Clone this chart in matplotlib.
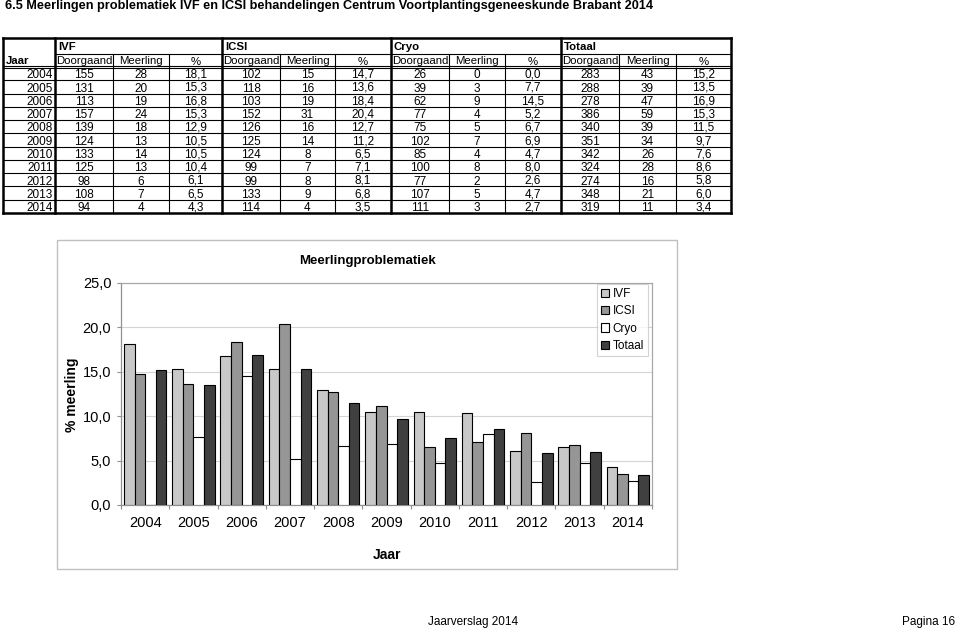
import matplotlib
matplotlib.use("Agg")
import matplotlib.pyplot as plt
from matplotlib.lines import Line2D
from matplotlib.patches import Rectangle
import numpy as np

plt.rcParams['font.family'] = ['Liberation Sans', 'DejaVu Sans']

years = [2004, 2005, 2006, 2007, 2008, 2009, 2010, 2011, 2012, 2013, 2014]
ivf_door = [155, 131, 113, 157, 139, 124, 133, 125, 98, 108, 94]
ivf_meer = [28, 20, 19, 24, 18, 13, 14, 13, 6, 7, 4]
ivf_pct = [18.1, 15.3, 16.8, 15.3, 12.9, 10.5, 10.5, 10.4, 6.1, 6.5, 4.3]
icsi_door = [102, 118, 103, 152, 126, 125, 124, 99, 99, 133, 114]
icsi_meer = [15, 16, 19, 31, 16, 14, 8, 7, 8, 9, 4]
icsi_pct = [14.7, 13.6, 18.4, 20.4, 12.7, 11.2, 6.5, 7.1, 8.1, 6.8, 3.5]
cryo_door = [26, 39, 62, 77, 75, 102, 85, 100, 77, 107, 111]
cryo_meer = [0, 3, 9, 4, 5, 7, 4, 8, 2, 5, 3]
cryo_pct = [0.0, 7.7, 14.5, 5.2, 6.7, 6.9, 4.7, 8.0, 2.6, 4.7, 2.7]
tot_door = [283, 288, 278, 386, 340, 351, 342, 324, 274, 348, 319]
tot_meer = [43, 39, 47, 59, 39, 34, 26, 28, 16, 21, 11]
tot_pct = [15.2, 13.5, 16.9, 15.3, 11.5, 9.7, 7.6, 8.6, 5.8, 6.0, 3.4]

groups = ["IVF", "ICSI", "Cryo", "Totaal"]
subcols = ["Doorgaand", "Meerling", "%"]
series_colors = ["#c8c8c8", "#969696", "#ffffff", "#404040"]

W, H = 960, 632
fig = plt.figure(figsize=(W / 100, H / 100), dpi=100)


def fx(x):
    return x / W


def fy(y):
    return 1 - y / H


def hline(x0, x1, y, lw=0.8, color="black"):
    fig.add_artist(Line2D([fx(x0), fx(x1)], [fy(y), fy(y)], lw=lw, color=color,
                          transform=fig.transFigure))


def vline(x, y0, y1, lw=0.8, color="black"):
    fig.add_artist(Line2D([fx(x), fx(x)], [fy(y0), fy(y1)], lw=lw, color=color,
                          transform=fig.transFigure))


def fmt(v):
    return f"{v:.1f}".replace(".", ",")


# Title
fig.text(fx(5), fy(6), "6.5 Meerlingen problematiek IVF en ICSI behandelingen Centrum "
         "Voortplantingsgeneeskunde Brabant 2014", fontsize=9.2, fontweight="bold",
         ha="left", va="center")

# ---- Table ----
col_edges = [3, 55, 113, 169, 222, 280, 335, 391, 449, 505, 561, 619, 676, 731]
y_top, y_h1, y_h2, y_bot = 38, 54, 67, 213
nrows = len(years)
rh = (y_bot - y_h2) / nrows
fs_t = 8.5
fs_h = 8.2
bl = 4.2  # baseline offset from cell centre (px)

# outer border
hline(col_edges[0], col_edges[-1], y_top, lw=1.8)
hline(col_edges[0], col_edges[-1], y_bot, lw=1.8)
vline(col_edges[0], y_top, y_bot, lw=1.8)
vline(col_edges[-1], y_top, y_bot, lw=1.8)
# header lines
hline(col_edges[1], col_edges[-1], y_h1, lw=0.8)
hline(col_edges[0], col_edges[-1], y_h2 - 1, lw=0.8)
hline(col_edges[0], col_edges[-1], y_h2 + 1, lw=0.8)
for i in range(1, nrows):
    hline(col_edges[0], col_edges[-1], y_h2 + i * rh, lw=0.8)
# vertical lines
for k, x in enumerate(col_edges[1:-1], start=1):
    if (k - 1) % 3 == 0:
        vline(x, y_top, y_bot, lw=1.8)
    else:
        vline(x, y_h1, y_bot, lw=0.8)

fig.text(fx(6), fy(59.5 + bl), "Jaar", fontsize=fs_h, fontweight="bold",
         ha="left", va="baseline")
for g, name in enumerate(groups):
    x0 = col_edges[1 + 3 * g]
    fig.text(fx(x0 + 3), fy((y_top + y_h1) / 2 + bl), name, fontsize=fs_h, fontweight="bold",
             ha="left", va="baseline")
    for s, sub in enumerate(subcols):
        xa, xb = col_edges[1 + 3 * g + s], col_edges[2 + 3 * g + s]
        dy = 1.2 if sub != "%" else 0.0
        fig.text(fx((xa + xb) / 2), fy((y_h1 + y_h2) / 2 + bl - dy), sub, fontsize=fs_h,
                 ha="center", va="baseline")

table_cols = [
    (ivf_door, ivf_meer, ivf_pct),
    (icsi_door, icsi_meer, icsi_pct),
    (cryo_door, cryo_meer, cryo_pct),
    (tot_door, tot_meer, tot_pct),
]
for i, yr in enumerate(years):
    yc = y_h2 + (i + 0.5) * rh + 0.5 + bl
    fig.text(fx(col_edges[1] - 2), fy(yc), str(yr), fontsize=fs_t, ha="right",
             va="baseline")
    for g, (d, m, p) in enumerate(table_cols):
        vals = [str(d[i]), str(m[i]), fmt(p[i])]
        for s, txt in enumerate(vals):
            xa, xb = col_edges[1 + 3 * g + s], col_edges[2 + 3 * g + s]
            dy = 0.7 if "," in txt else 0.0
            fig.text(fx((xa + xb) / 2), fy(yc - dy), txt, fontsize=fs_t, ha="center",
                     va="baseline")

# ---- Chart frame ----
fig.add_artist(Rectangle((fx(57), fy(569)), fx(677) - fx(57), fy(240) - fy(569),
                         transform=fig.transFigure, fill=False, edgecolor="#c0c0c0", lw=1.0))

ax = fig.add_axes([fx(121), fy(505), fx(652) - fx(121), fy(283) - fy(505)])
x = np.arange(len(years))
w = 0.22
all_pct = [ivf_pct, icsi_pct, cryo_pct, tot_pct]
for k, (name, vals, col) in enumerate(zip(groups, all_pct, series_colors)):
    ax.bar(x + (k - 1.5) * w, vals, width=w, color=col, edgecolor="black", lw=0.8,
           label=name, zorder=3)

ax.set_xlim(-0.5, len(years) - 0.5)
ax.set_ylim(0, 25)
ax.set_yticks(np.arange(0, 25.1, 5))
ax.set_yticklabels([fmt(v) for v in np.arange(0, 25.1, 5)], fontsize=10.5)
ax.set_xticks(np.arange(-0.5, len(years), 1))
ax.set_xticklabels([])
ax.set_xticks(x, minor=True)
ax.set_xticklabels([str(y) for y in years], minor=True, fontsize=10.5)
ax.tick_params(axis="x", which="minor", length=0, pad=8)
ax.tick_params(axis="x", which="major", length=3, color="#909090", direction="out")
ax.tick_params(axis="y", length=3, color="#909090", pad=4)
ax.grid(axis="y", color="#d4d4d4", lw=0.8, zorder=0)
for sp in ax.spines.values():
    sp.set_color("#a8a8a8")
    sp.set_linewidth(0.9)
ax.spines["left"].set_color("#909090")
ax.spines["bottom"].set_color("#909090")

fig.text(fx(367), fy(261), "Meerlingproblematiek", fontsize=9.5, fontweight="bold",
         ha="center", va="center")
fig.text(fx(72), fy(395), "% meerling", fontsize=10, fontweight="bold", rotation=90,
         ha="center", va="center")
fig.text(fx(387), fy(555), "Jaar", fontsize=10, fontweight="bold", ha="center", va="center")

leg = ax.legend(loc="upper right", bbox_to_anchor=(fx(648), fy(284)),
                bbox_transform=fig.transFigure, fontsize=8.5, frameon=True, fancybox=False,
                handlelength=0.7, handleheight=0.7, handletextpad=0.3, borderpad=0.35,
                labelspacing=0.45, borderaxespad=0)
leg.get_frame().set_edgecolor("#c8c8c8")
leg.get_frame().set_linewidth(0.8)

# Footer
fig.text(fx(428), fy(622), "Jaarverslag 2014", fontsize=8.5, ha="left", va="center")
fig.text(fx(955), fy(622), "Pagina 16", fontsize=8.5, ha="right", va="center")

fig.savefig("out.png", dpi=100)
